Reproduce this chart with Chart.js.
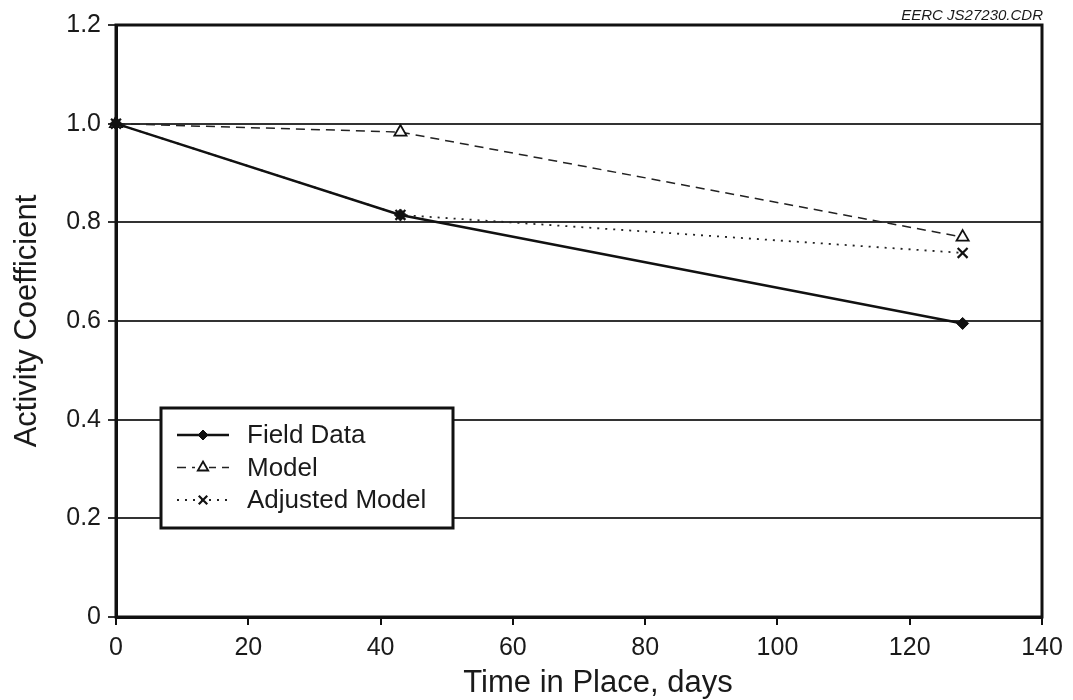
<!DOCTYPE html>
<html>
<head>
<meta charset="utf-8">
<script src="https://cdn.jsdelivr.net/npm/chart.js@4.4.1/dist/chart.umd.min.js"></script>
<style>
  html, body { margin: 0; padding: 0; background: #fff; }
  #wrap { position: relative; width: 1073px; height: 700px; }
</style>
</head>
<body>
<div id="wrap"><canvas id="chart" width="1073" height="700"></canvas></div>
<script>
// 데이터
const days = [0, 43, 128];
const fieldData = [1.0, 0.815, 0.595];
const modelData = [1.0, 0.983, 0.770];
const adjustedData = [1.0, 0.815, 0.738];
const xTicks = [0, 20, 40, 60, 80, 100, 120, 140];
const yTicks = [0, 0.2, 0.4, 0.6, 0.8, 1.0, 1.2];
const seriesNames = ['Field Data', 'Model', 'Adjusted Model'];
const xTitle = 'Time in Place, days';
const yTitle = 'Activity Coefficient';
const sourceNote = 'EERC JS27230.CDR';

const FONT = '"Liberation Sans", Arial, Helvetica, sans-serif';
const INK = '#1a1a1a';
const pts = (ys) => days.map((d, i) => ({ x: d, y: ys[i] }));

// 테두리 + x축 제목 + 파일명
const framePlugin = {
  id: 'frame',
  beforeDatasetsDraw(chart) {
    const { ctx, chartArea: a } = chart;
    ctx.save();
    ctx.strokeStyle = '#111';
    ctx.lineWidth = 3;
    ctx.strokeRect(a.left, a.top, a.right - a.left, a.bottom - a.top);
    ctx.restore();
  },
  afterDraw(chart) {
    const { ctx, chartArea: a } = chart;
    ctx.save();
    ctx.fillStyle = INK;
    ctx.textBaseline = 'middle';
    ctx.font = `italic 15px ${FONT}`;
    ctx.textAlign = 'right';
    ctx.fillText(sourceNote, a.right + 1, 16);
    ctx.font = `31px ${FONT}`;
    ctx.textAlign = 'center';
    ctx.fillText(xTitle, 598, 683);
    ctx.restore();
  },
};

// 범례 박스 (차트 안쪽)
const boxLegend = {
  id: 'boxLegend',
  afterDraw(chart) {
    const { ctx } = chart;
    const bx = 161, by = 408, bw = 292, bh = 120;
    ctx.save();
    ctx.fillStyle = '#fff';
    ctx.fillRect(bx, by, bw, bh);
    ctx.strokeStyle = '#111';
    ctx.lineWidth = 3;
    ctx.strokeRect(bx, by, bw, bh);
    chart.data.datasets.forEach((ds, i) => {
      const y = by + 27 + i * 32.5;
      ctx.save();
      ctx.strokeStyle = ds.borderColor;
      ctx.lineWidth = ds.borderWidth;
      ctx.setLineDash(ds.borderDash || []);
      ctx.beginPath();
      ctx.moveTo(177, y);
      ctx.lineTo(229, y);
      ctx.stroke();
      ctx.restore();
      ctx.save();
      ctx.fillStyle = ds.pointBackgroundColor;
      ctx.strokeStyle = ds.pointBorderColor;
      ctx.lineWidth = ds.pointBorderWidth;
      if (ds.pointStyle === 'triangle') {
        ctx.fillStyle = '#fff';
        ctx.fillRect(195, y - 7, 14, 13);
        ctx.fillStyle = ds.pointBackgroundColor;
      }
      Chart.helpers.drawPoint(ctx, {
        pointStyle: ds.pointStyle,
        radius: ds.pointRadius - 1,
        rotation: 0,
        borderWidth: ds.pointBorderWidth,
      }, 203, y);
      ctx.restore();
      ctx.fillStyle = INK;
      ctx.font = `26px ${FONT}`;
      ctx.textAlign = 'left';
      ctx.textBaseline = 'middle';
      ctx.fillText(ds.label, 247, y + 1);
    });
    ctx.restore();
  },
};

new Chart(document.getElementById('chart').getContext('2d'), {
  type: 'scatter',
  data: {
    datasets: [
      {
        label: seriesNames[0],
        data: pts(fieldData),
        showLine: true,
        borderColor: '#111',
        borderWidth: 2.5,
        pointStyle: 'rectRot',
        pointRadius: 6,
        pointBackgroundColor: '#111',
        pointBorderColor: '#111',
        pointBorderWidth: 1,
      },
      {
        label: seriesNames[1],
        data: pts(modelData),
        showLine: true,
        borderColor: '#222',
        borderWidth: 1.5,
        borderDash: [9, 6],
        pointStyle: 'triangle',
        pointRadius: 7,
        pointBackgroundColor: '#fff',
        pointBorderColor: '#111',
        pointBorderWidth: 1.8,
      },
      {
        label: seriesNames[2],
        data: pts(adjustedData),
        showLine: true,
        borderColor: '#222',
        borderWidth: 1.8,
        borderDash: [2, 6],
        pointStyle: 'crossRot',
        pointRadius: 7,
        pointBackgroundColor: '#111',
        pointBorderColor: '#111',
        pointBorderWidth: 2.2,
      },
    ],
  },
  options: {
    responsive: false,
    animation: false,
    clip: false,
    layout: { padding: { top: 25, right: 31, left: 0, bottom: 0 } },
    plugins: {
      legend: { display: false },
      tooltip: { enabled: false },
    },
    scales: {
      x: {
        type: 'linear',
        min: 0,
        max: 140,
        afterBuildTicks: (s) => { s.ticks = xTicks.map((v) => ({ value: v })); },
        afterFit: (s) => { s.height = 83; },
        ticks: { color: INK, font: { family: FONT, size: 25 }, padding: 8, maxRotation: 0 },
        grid: { drawOnChartArea: false, drawTicks: true, tickLength: 8, color: '#111', lineWidth: 2 },
        border: { display: true, color: '#111', width: 3 },
      },
      y: {
        min: 0,
        max: 1.2,
        afterBuildTicks: (s) => { s.ticks = yTicks.map((v) => ({ value: v })); },
        afterFit: (s) => { s.width = 116; },
        ticks: {
          color: INK,
          font: { family: FONT, size: 25 },
          padding: 7,
          callback: (v) => (v === 0 ? '0' : v.toFixed(1)),
        },
        grid: { color: '#333', lineWidth: 2, tickLength: 8 },
        border: { display: true, color: '#111', width: 3 },
        title: {
          display: true,
          text: yTitle,
          color: INK,
          font: { family: FONT, size: 31 },
          padding: { top: 9, bottom: 0 },
        },
      },
    },
  },
  plugins: [framePlugin, boxLegend],
});
</script>
</body>
</html>
